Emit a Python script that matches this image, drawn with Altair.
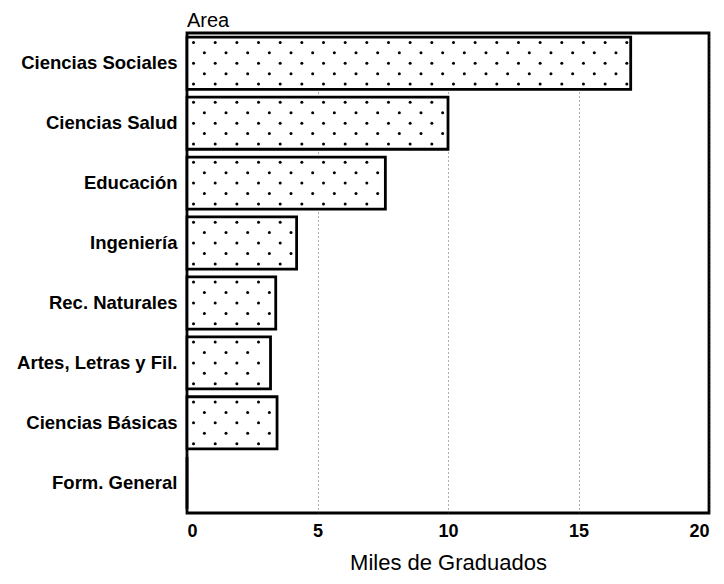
import altair as alt
import pandas as pd

categories = ["Ciencias Sociales", "Ciencias Salud", "Educación", "Ingeniería",
              "Rec. Naturales", "Artes, Letras y Fil.", "Ciencias Básicas", "Form. General"]
values = [17.0, 10.0, 7.6, 4.2, 3.4, 3.2, 3.45, 0.0]
x_ticks = [0, 5, 10, 15, 20]
dot_rows = [0.1, 0.3, 0.5, 0.7, 0.9]

df = pd.DataFrame({"Area": categories, "Graduados": values})

FONT = "Arial"
ysc = alt.Scale(domain=categories, paddingInner=0.13, paddingOuter=0.07)
xsc = alt.Scale(domain=[0, 20], nice=False, zero=True)

y_enc = alt.Y("Area:N", scale=ysc, sort=categories,
              axis=alt.Axis(title=None, labelFont=FONT, labelFontSize=18.5, labelFontWeight="bold",
                            labelColor="black", ticks=False, domain=False, labelPadding=10,
                            labelLimit=400, grid=False))
x_enc = alt.X("Graduados:Q", scale=xsc,
              axis=alt.Axis(values=x_ticks, title="Miles de Graduados", grid=True,
                            gridColor="#333333", gridDash=[1, 3], gridWidth=0.8, gridOpacity=1,
                            domain=False, ticks=False, labelFont=FONT, labelFontSize=18,
                            labelFontWeight="bold", labelColor="black", labelPadding=9,
                            titleFont=FONT, titleFontSize=22, titleFontWeight="normal",
                            titleColor="black", titlePadding=12))

base = alt.Chart(df)

fill = base.mark_bar(fill="white", opacity=1).encode(x=x_enc, y=y_enc)

dot_layers = []
for i, bp in enumerate(dot_rows):
    shift = 0.415 * (i % 2)
    dot_layers.append(
        base.transform_calculate(
            xs=f"sequence(0.25 + {shift}, datum.Graduados - 0.1, 0.83)"
        )
        .transform_flatten(["xs"], ["xd"])
        .mark_circle(size=9, color="black", opacity=1)
        .encode(
            x=alt.X("xd:Q", scale=xsc),
            y=alt.Y("Area:N", scale=ysc, sort=categories, bandPosition=bp),
        )
    )

outline = base.mark_bar(stroke="black", strokeWidth=2.8, fillOpacity=0).encode(
    x=alt.X("Graduados:Q", scale=xsc), y=alt.Y("Area:N", scale=ysc, sort=categories)
)

chart = (
    alt.layer(fill, *dot_layers, outline)
    .properties(
        width=522, height=480, background="white",
        padding={"left": 8, "top": 3, "right": 5, "bottom": 3},
        title=alt.TitleParams("Area", anchor="start", frame="group", font=FONT, fontSize=20,
                              fontWeight="normal", color="black", offset=2),
    )
    .configure_view(stroke="black", strokeWidth=2.8)
)

chart.save("out.html", embed_options={"renderer": "svg", "actions": False})
